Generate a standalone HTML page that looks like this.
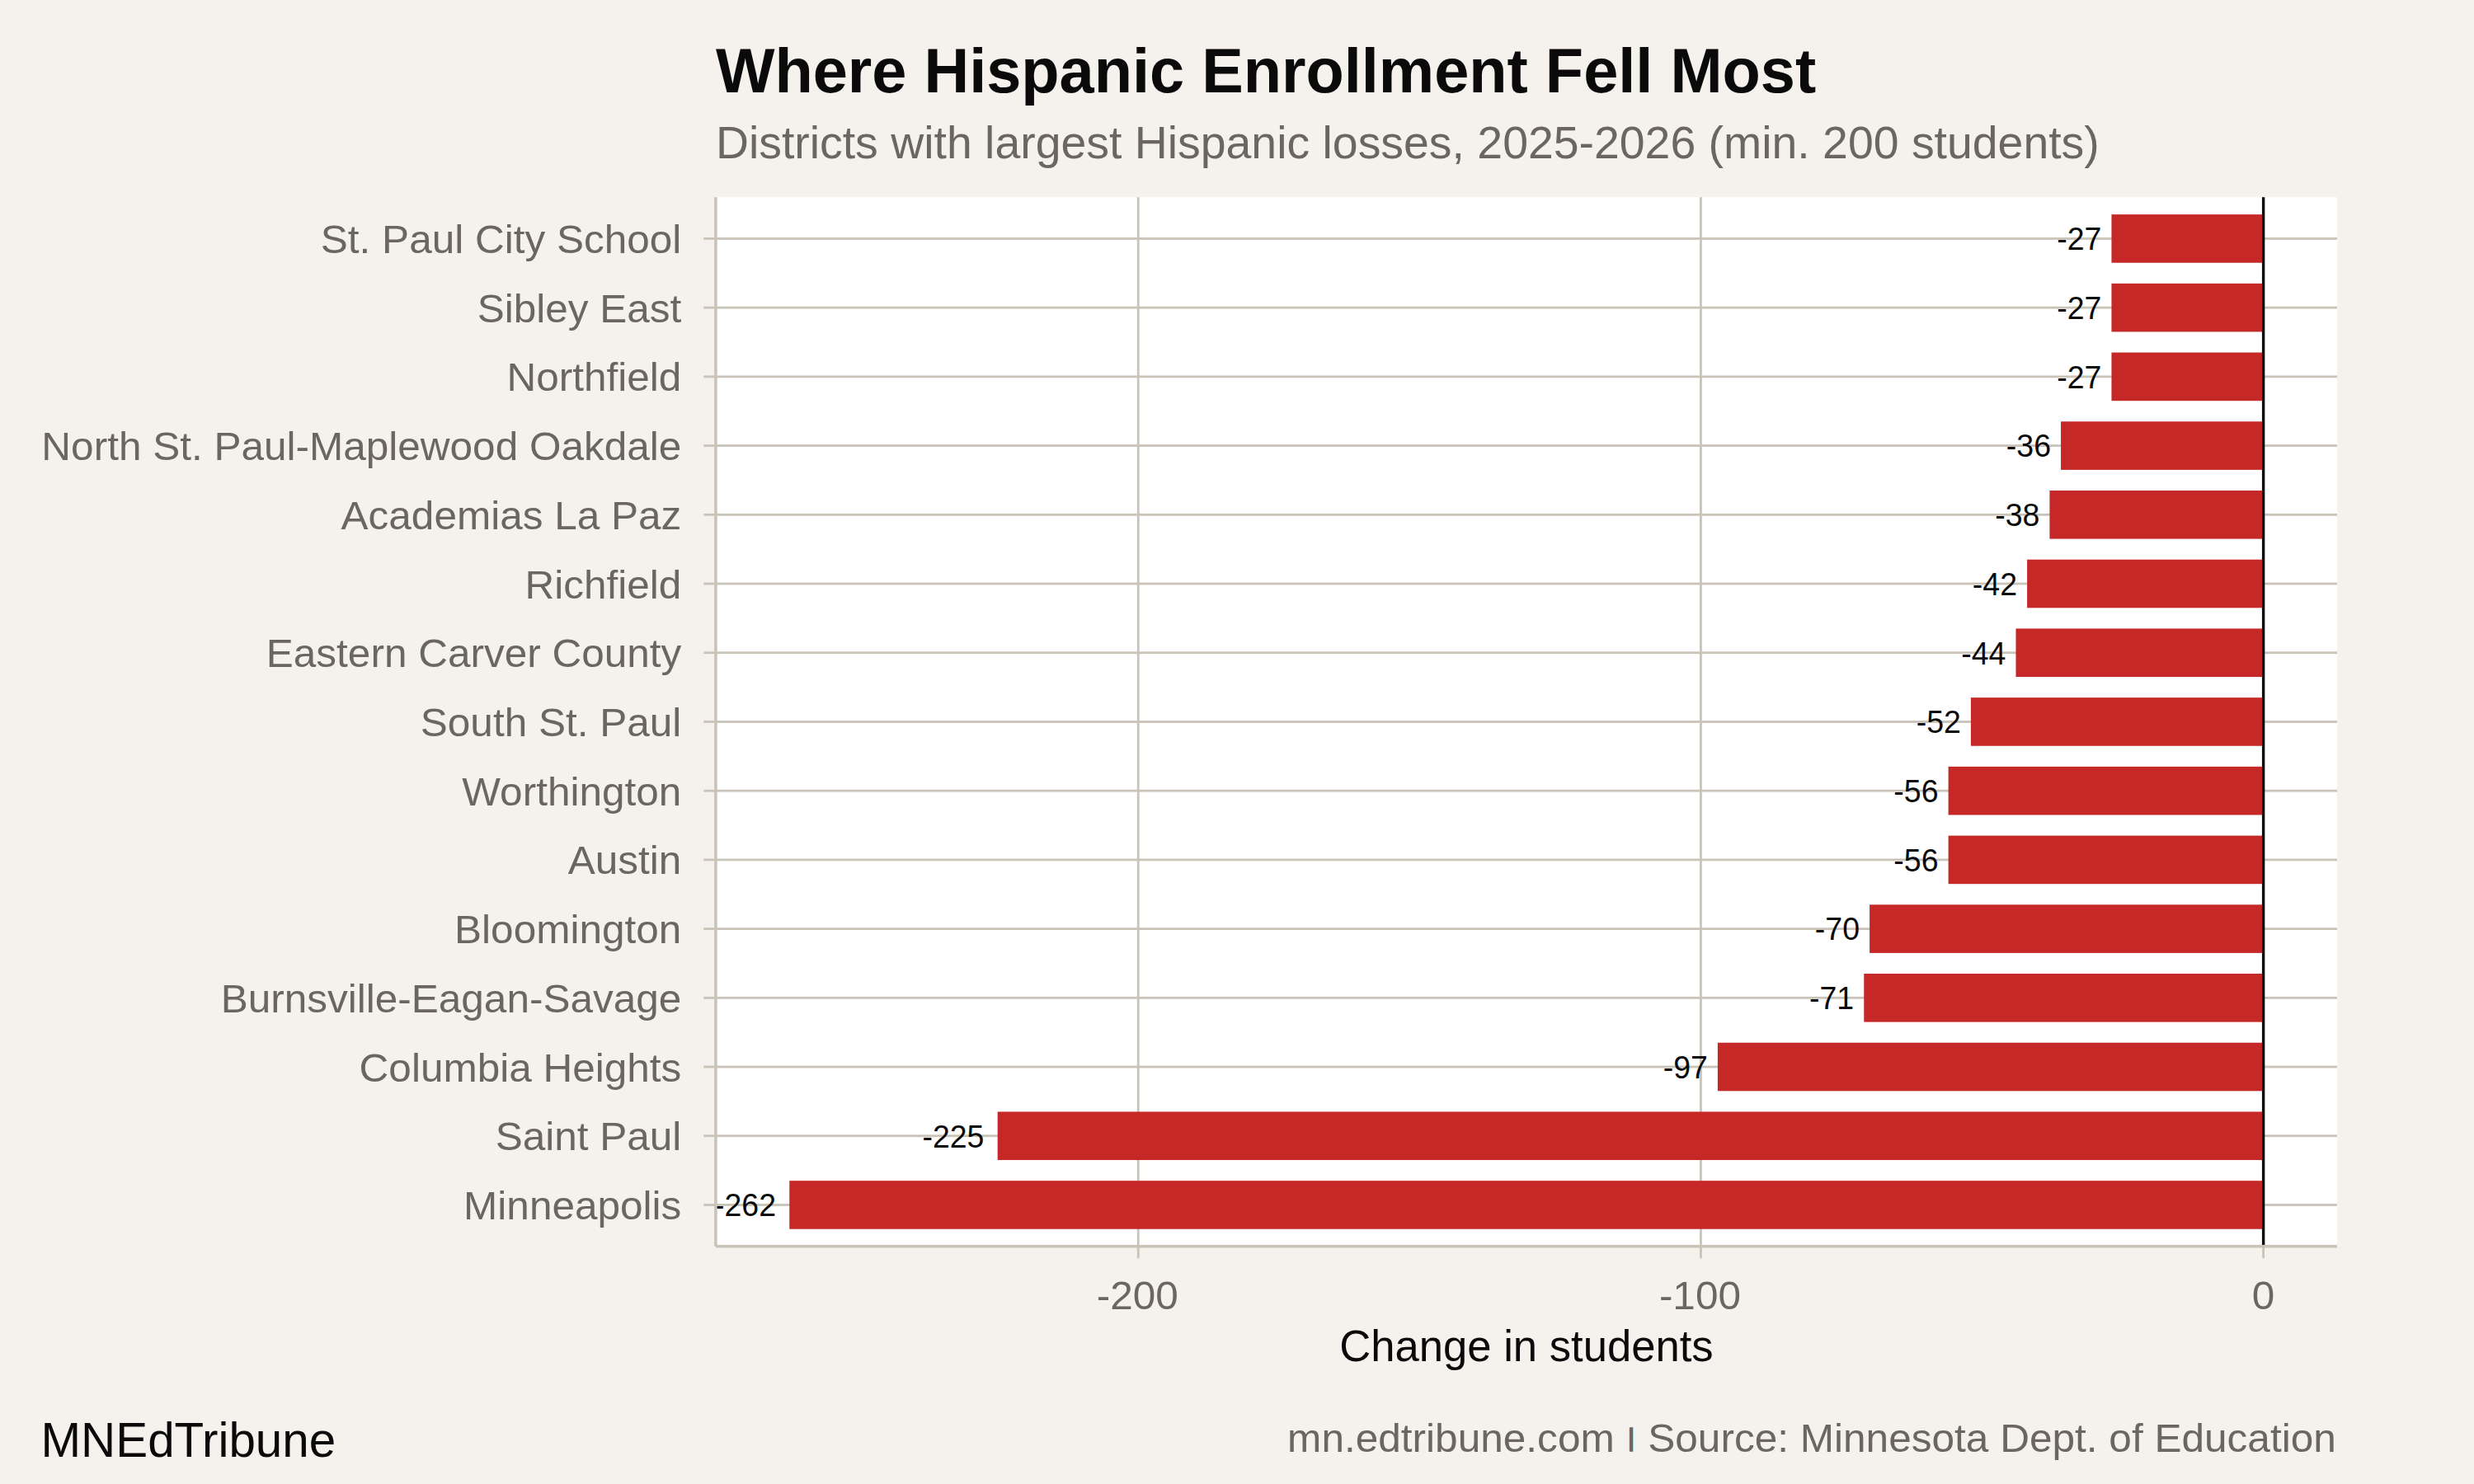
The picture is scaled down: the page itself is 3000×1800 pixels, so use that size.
<!DOCTYPE html>
<html lang="en"><head><meta charset="utf-8"><title>Where Hispanic Enrollment Fell Most</title>
<style>
html,body{margin:0;padding:0;background:#F5F2ED;}
body{width:3000px;height:1800px;overflow:hidden;}
svg{display:block;}
text{font-family:"Liberation Sans",sans-serif;}
</style></head><body>
<svg width="3000" height="1800" viewBox="0 0 3000 1800">
<rect x="0" y="0" width="3000" height="1800" fill="#F5F2ED"/>
<rect x="867.9" y="239.2" width="1966.1" height="1272.5" fill="#FFFFFF"/>
<rect x="1378.83" y="239.2" width="2.8" height="1272.5" fill="#C9C3B8"/>
<rect x="2061.03" y="239.2" width="2.8" height="1272.5" fill="#C9C3B8"/>
<rect x="2743.23" y="239.2" width="2.8" height="1272.5" fill="#C9C3B8"/>
<rect x="867.9" y="288.03" width="1966.1" height="2.8" fill="#C9C3B8"/>
<rect x="867.9" y="371.75" width="1966.1" height="2.8" fill="#C9C3B8"/>
<rect x="867.9" y="455.46" width="1966.1" height="2.8" fill="#C9C3B8"/>
<rect x="867.9" y="539.18" width="1966.1" height="2.8" fill="#C9C3B8"/>
<rect x="867.9" y="622.90" width="1966.1" height="2.8" fill="#C9C3B8"/>
<rect x="867.9" y="706.62" width="1966.1" height="2.8" fill="#C9C3B8"/>
<rect x="867.9" y="790.33" width="1966.1" height="2.8" fill="#C9C3B8"/>
<rect x="867.9" y="874.05" width="1966.1" height="2.8" fill="#C9C3B8"/>
<rect x="867.9" y="957.77" width="1966.1" height="2.8" fill="#C9C3B8"/>
<rect x="867.9" y="1041.48" width="1966.1" height="2.8" fill="#C9C3B8"/>
<rect x="867.9" y="1125.20" width="1966.1" height="2.8" fill="#C9C3B8"/>
<rect x="867.9" y="1208.92" width="1966.1" height="2.8" fill="#C9C3B8"/>
<rect x="867.9" y="1292.64" width="1966.1" height="2.8" fill="#C9C3B8"/>
<rect x="867.9" y="1376.35" width="1966.1" height="2.8" fill="#C9C3B8"/>
<rect x="867.9" y="1460.07" width="1966.1" height="2.8" fill="#C9C3B8"/>
<rect x="2560.44" y="260.13" width="184.19" height="58.60" fill="#C62828"/>
<rect x="2560.44" y="343.85" width="184.19" height="58.60" fill="#C62828"/>
<rect x="2560.44" y="427.56" width="184.19" height="58.60" fill="#C62828"/>
<rect x="2499.04" y="511.28" width="245.59" height="58.60" fill="#C62828"/>
<rect x="2485.40" y="595.00" width="259.24" height="58.60" fill="#C62828"/>
<rect x="2458.11" y="678.71" width="286.52" height="58.60" fill="#C62828"/>
<rect x="2444.46" y="762.43" width="300.17" height="58.60" fill="#C62828"/>
<rect x="2389.89" y="846.15" width="354.74" height="58.60" fill="#C62828"/>
<rect x="2362.60" y="929.87" width="382.03" height="58.60" fill="#C62828"/>
<rect x="2362.60" y="1013.58" width="382.03" height="58.60" fill="#C62828"/>
<rect x="2267.09" y="1097.30" width="477.54" height="58.60" fill="#C62828"/>
<rect x="2260.27" y="1181.02" width="484.36" height="58.60" fill="#C62828"/>
<rect x="2082.90" y="1264.73" width="661.73" height="58.60" fill="#C62828"/>
<rect x="1209.68" y="1348.45" width="1534.95" height="58.60" fill="#C62828"/>
<rect x="957.27" y="1432.17" width="1787.36" height="58.60" fill="#C62828"/>
<rect x="2742.93" y="239.2" width="3.4" height="1272.5" fill="#0A0A0A"/>
<text x="2494.20" y="303.23" font-size="38.6" textLength="54.20" lengthAdjust="spacingAndGlyphs" fill="#0A0A0A">-27</text>
<text x="2494.20" y="386.95" font-size="38.6" textLength="54.20" lengthAdjust="spacingAndGlyphs" fill="#0A0A0A">-27</text>
<text x="2494.20" y="470.66" font-size="38.6" textLength="54.20" lengthAdjust="spacingAndGlyphs" fill="#0A0A0A">-27</text>
<text x="2432.80" y="554.38" font-size="38.6" textLength="54.20" lengthAdjust="spacingAndGlyphs" fill="#0A0A0A">-36</text>
<text x="2419.16" y="638.10" font-size="38.6" textLength="54.20" lengthAdjust="spacingAndGlyphs" fill="#0A0A0A">-38</text>
<text x="2391.87" y="721.82" font-size="38.6" textLength="54.20" lengthAdjust="spacingAndGlyphs" fill="#0A0A0A">-42</text>
<text x="2378.22" y="805.53" font-size="38.6" textLength="54.20" lengthAdjust="spacingAndGlyphs" fill="#0A0A0A">-44</text>
<text x="2323.65" y="889.25" font-size="38.6" textLength="54.20" lengthAdjust="spacingAndGlyphs" fill="#0A0A0A">-52</text>
<text x="2296.36" y="972.97" font-size="38.6" textLength="54.20" lengthAdjust="spacingAndGlyphs" fill="#0A0A0A">-56</text>
<text x="2296.36" y="1056.68" font-size="38.6" textLength="54.20" lengthAdjust="spacingAndGlyphs" fill="#0A0A0A">-56</text>
<text x="2200.85" y="1140.40" font-size="38.6" textLength="54.20" lengthAdjust="spacingAndGlyphs" fill="#0A0A0A">-70</text>
<text x="2194.03" y="1224.12" font-size="38.6" textLength="54.20" lengthAdjust="spacingAndGlyphs" fill="#0A0A0A">-71</text>
<text x="2016.66" y="1307.84" font-size="38.6" textLength="54.20" lengthAdjust="spacingAndGlyphs" fill="#0A0A0A">-97</text>
<text x="1118.42" y="1391.55" font-size="38.6" textLength="75.06" lengthAdjust="spacingAndGlyphs" fill="#0A0A0A">-225</text>
<text x="866.00" y="1475.27" font-size="38.6" textLength="75.06" lengthAdjust="spacingAndGlyphs" fill="#0A0A0A">-262</text>
<rect x="866.10" y="239.2" width="3.6" height="1272.5" fill="#C9C3B8"/>
<rect x="867.9" y="1509.90" width="1966.1" height="3.6" fill="#C9C3B8"/>
<rect x="853.30" y="288.03" width="14.6" height="2.8" fill="#C9C3B8"/>
<rect x="853.30" y="371.75" width="14.6" height="2.8" fill="#C9C3B8"/>
<rect x="853.30" y="455.46" width="14.6" height="2.8" fill="#C9C3B8"/>
<rect x="853.30" y="539.18" width="14.6" height="2.8" fill="#C9C3B8"/>
<rect x="853.30" y="622.90" width="14.6" height="2.8" fill="#C9C3B8"/>
<rect x="853.30" y="706.62" width="14.6" height="2.8" fill="#C9C3B8"/>
<rect x="853.30" y="790.33" width="14.6" height="2.8" fill="#C9C3B8"/>
<rect x="853.30" y="874.05" width="14.6" height="2.8" fill="#C9C3B8"/>
<rect x="853.30" y="957.77" width="14.6" height="2.8" fill="#C9C3B8"/>
<rect x="853.30" y="1041.48" width="14.6" height="2.8" fill="#C9C3B8"/>
<rect x="853.30" y="1125.20" width="14.6" height="2.8" fill="#C9C3B8"/>
<rect x="853.30" y="1208.92" width="14.6" height="2.8" fill="#C9C3B8"/>
<rect x="853.30" y="1292.64" width="14.6" height="2.8" fill="#C9C3B8"/>
<rect x="853.30" y="1376.35" width="14.6" height="2.8" fill="#C9C3B8"/>
<rect x="853.30" y="1460.07" width="14.6" height="2.8" fill="#C9C3B8"/>
<rect x="1378.83" y="1511.7" width="2.8" height="14.6" fill="#C9C3B8"/>
<rect x="2061.03" y="1511.7" width="2.8" height="14.6" fill="#C9C3B8"/>
<rect x="2743.23" y="1511.7" width="2.8" height="14.6" fill="#C9C3B8"/>
<text x="388.85" y="306.93" font-size="48.4" textLength="437.45" lengthAdjust="spacingAndGlyphs" fill="#6B6660">St. Paul City School</text>
<text x="578.68" y="390.65" font-size="48.4" textLength="247.62" lengthAdjust="spacingAndGlyphs" fill="#6B6660">Sibley East</text>
<text x="614.45" y="474.36" font-size="48.4" textLength="211.85" lengthAdjust="spacingAndGlyphs" fill="#6B6660">Northfield</text>
<text x="50.39" y="558.08" font-size="48.4" textLength="775.91" lengthAdjust="spacingAndGlyphs" fill="#6B6660">North St. Paul-Maplewood Oakdale</text>
<text x="413.57" y="641.80" font-size="48.4" textLength="412.73" lengthAdjust="spacingAndGlyphs" fill="#6B6660">Academias La Paz</text>
<text x="636.47" y="725.52" font-size="48.4" textLength="189.83" lengthAdjust="spacingAndGlyphs" fill="#6B6660">Richfield</text>
<text x="322.84" y="809.23" font-size="48.4" textLength="503.46" lengthAdjust="spacingAndGlyphs" fill="#6B6660">Eastern Carver County</text>
<text x="509.84" y="892.95" font-size="48.4" textLength="316.46" lengthAdjust="spacingAndGlyphs" fill="#6B6660">South St. Paul</text>
<text x="560.31" y="976.67" font-size="48.4" textLength="265.99" lengthAdjust="spacingAndGlyphs" fill="#6B6660">Worthington</text>
<text x="688.72" y="1060.38" font-size="48.4" textLength="137.58" lengthAdjust="spacingAndGlyphs" fill="#6B6660">Austin</text>
<text x="551.12" y="1144.10" font-size="48.4" textLength="275.18" lengthAdjust="spacingAndGlyphs" fill="#6B6660">Bloomington</text>
<text x="267.73" y="1227.82" font-size="48.4" textLength="558.57" lengthAdjust="spacingAndGlyphs" fill="#6B6660">Burnsville-Eagan-Savage</text>
<text x="435.62" y="1311.54" font-size="48.4" textLength="390.68" lengthAdjust="spacingAndGlyphs" fill="#6B6660">Columbia Heights</text>
<text x="600.65" y="1395.25" font-size="48.4" textLength="225.65" lengthAdjust="spacingAndGlyphs" fill="#6B6660">Saint Paul</text>
<text x="562.14" y="1478.97" font-size="48.4" textLength="264.16" lengthAdjust="spacingAndGlyphs" fill="#6B6660">Minneapolis</text>
<text x="1329.70" y="1587.8" font-size="48.8" textLength="99.07" lengthAdjust="spacingAndGlyphs" fill="#6B6660">-200</text>
<text x="2011.90" y="1587.8" font-size="48.8" textLength="99.07" lengthAdjust="spacingAndGlyphs" fill="#6B6660">-100</text>
<text x="2730.87" y="1587.8" font-size="48.8" textLength="27.53" lengthAdjust="spacingAndGlyphs" fill="#6B6660">0</text>
<text x="1850.95" y="1651.3" font-size="54" text-anchor="middle" textLength="453.5" lengthAdjust="spacingAndGlyphs" fill="#0A0A0A">Change in students</text>
<text x="867.9" y="112.1" font-size="75.75" font-weight="bold" fill="#0A0A0A">Where Hispanic Enrollment Fell Most</text>
<text x="867.9" y="192.1" font-size="55.4" fill="#6B6660">Districts with largest Hispanic losses, 2025-2026 (min. 200 students)</text>
<text x="1561.13" y="1760.8" font-size="48.5" textLength="1271.67" lengthAdjust="spacingAndGlyphs" fill="#6B6660">mn.edtribune.com <tspan font-size="30.4" dx="2.4" dy="-6.9" stroke="#6B6660" stroke-width="1.7">|</tspan><tspan dx="2.4" dy="6.9"> Source: Minnesota Dept. of Education</tspan></text>
<text x="49.5" y="1767.3" font-size="60" textLength="357.7" lengthAdjust="spacingAndGlyphs" fill="#0A0A0A">MNEdTribune</text>
</svg></body></html>
